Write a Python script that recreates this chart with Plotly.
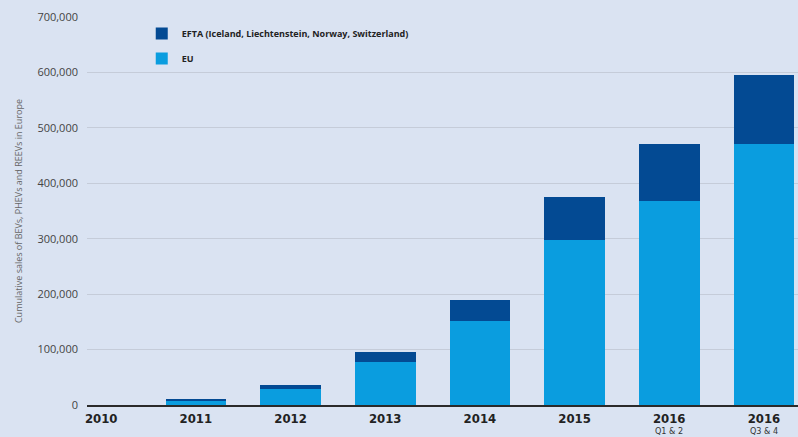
import plotly.graph_objects as go

categories = ["2010", "2011", "2012", "2013", "2014", "2015", "2016 Q1 & 2", "2016 Q3 & 4"]
tick_labels = ["2010", "2011", "2012", "2013", "2014", "2015", "2016", "2016"]
sub_labels = ["", "", "", "", "", "", "Q1 & 2", "Q3 & 4"]
eu_values = [0, 8000, 29000, 78000, 152000, 298000, 368000, 471000]
efta_values = [0, 1500, 7000, 18000, 38000, 77000, 103000, 125000]
y_ticks = [0, 100000, 200000, 300000, 400000, 500000, 600000, 700000]
y_tick_text = ["0", "100,000", "200,000", "300,000", "400,000", "500,000", "600,000", "700,000"]

bg = "#dae3f2"
cond = "DejaVu Sans Condensed, Liberation Sans Narrow, sans-serif"
xs = list(range(len(categories)))
fig = go.Figure()
fig.add_trace(go.Bar(x=xs, y=eu_values, name="EU", legendgroup="eu", legendrank=2,
                     marker=dict(color="#0a9ddf", line=dict(width=0))))
fig.add_trace(go.Bar(x=xs, y=efta_values, legendgroup="efta", legendrank=1,
                     name="EFTA (Iceland, Liechtenstein, Norway, Switzerland)",
                     marker=dict(color="#034a93", line=dict(width=0))))

for i, s in enumerate(sub_labels):
    if s:
        fig.add_annotation(x=i, xref="x", y=0, yref="paper", yanchor="top",
                           yshift=-19, text=s, showarrow=False,
                           font=dict(size=9, color="#333", family=cond))

fig.update_layout(
    width=798, height=437,
    barmode="stack", bargap=0.36,
    paper_bgcolor=bg, plot_bgcolor=bg,
    margin=dict(l=87, r=0, t=17, b=32, autoexpand=False),
    font=dict(family="Open Sans, sans-serif", color="#333"),
    showlegend=True,
    legend=dict(x=0.077, y=0.995, xanchor="left", yanchor="top",
                traceorder="grouped", bgcolor="rgba(0,0,0,0)",
                font=dict(size=9, color="#222", family="Open Sans, sans-serif", weight="bold"),
                itemsizing="constant", tracegroupgap=6),
    xaxis=dict(tickmode="array", tickvals=xs, ticktext=tick_labels, automargin=False,
               range=[-0.15, 7.36], showgrid=False, zeroline=False,
               showline=True, linecolor="#2a2a2a", linewidth=2,
               ticks="", tickfont=dict(size=13, color="#222", weight="bold", family=cond)),
    yaxis=dict(range=[0, 700000], tickmode="array", tickvals=y_ticks, ticktext=y_tick_text,
               showgrid=True, gridcolor="#c5ccd9", gridwidth=1, zeroline=False,
               ticks="", ticklabelstandoff=8, automargin=False,
               tickfont=dict(size=11, color="#444"),
               title=dict(text="Cumulative sales of BEVs, PHEVs and REEVs in Europe",
                          font=dict(size=9, color="#666"), standoff=13)),
)

fig.write_html("out.html", config={"displayModeBar": False},
               post_script="document.body.style.margin='0';document.body.style.overflow='hidden';")
